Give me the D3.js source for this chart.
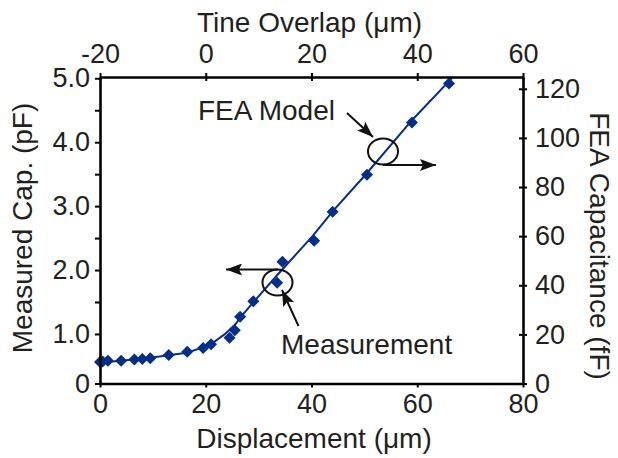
<!DOCTYPE html>
<html>
<head>
<meta charset="utf-8">
<script src="https://cdn.jsdelivr.net/npm/d3@7"></script>
<style>
  body { margin: 0; background: #fff; }
  text { font-family: "Liberation Sans", Arial, Helvetica, sans-serif; fill: #231f20; }
</style>
</head>
<body>
<svg id="chart" width="618" height="458"></svg>
<script>
// measured capacitance (pF) vs displacement (um)
const measDisp = [0, 0.5, 1.5, 4, 6.5, 8, 9.5, 13, 16.5, 19.5, 21, 24.5, 25.5, 26.5, 29, 33.5, 34.5, 40.5, 44, 50.5, 59, 66];
const measCap = [0.56, 0.57, 0.58, 0.58, 0.60, 0.61, 0.62, 0.67, 0.72, 0.78, 0.84, 0.94, 1.06, 1.27, 1.51, 1.80, 2.13, 2.46, 2.91, 3.49, 4.31, 4.92];

// FEA model capacitance (fF) vs tine overlap (um)
const feaOverlap = [-20.1, -16, -10.5, -7, -3.6, -0.6, 1.1, 3.6, 5.6, 6.6, 9.1, 14, 20.2, 24, 30.3, 39, 45.8, 46.8];
const feaCap = [8.5, 9.3, 10.5, 11.5, 12.5, 14.6, 16.2, 20.1, 24.1, 27.0, 33.3, 45.3, 60.0, 70.1, 85.2, 107.2, 122.6, 124.9];

const dispTicks = [0, 20, 40, 60, 80];
const overlapTicks = [-20, 0, 20, 40, 60];
const pfTicks = [0.225, 1, 1.5, 2, 2.5, 3, 3.5, 4, 4.5, 5];
const pfLabels = [0.225, 1, 2, 3, 4, 5];
const ffTicks = [0, 20, 40, 60, 80, 100, 120];

const svg = d3.select("#chart");
const m = { left: 100, right: 523, top: 77, bottom: 383.5 };
const blue = "#062d87";
const fs = "27px";

const x = d3.scaleLinear().domain([0, 80]).range([m.left, m.right]);
const xTop = d3.scaleLinear().domain([-20, 60]).range([m.left, m.right]);
const yL = d3.scaleLinear().domain([0.225, 5.02]).range([m.bottom, m.top]);
const yR = d3.scaleLinear().domain([0, 124.8]).range([m.bottom, m.top]);

// FEA model line
svg.append("path")
  .datum(d3.zip(feaOverlap, feaCap))
  .attr("fill", "none")
  .attr("stroke", blue)
  .attr("stroke-width", 2)
  .attr("d", d3.line().x(d => xTop(d[0])).y(d => yR(d[1])));

// measurement markers
svg.append("g").selectAll("path")
  .data(d3.zip(measDisp, measCap))
  .join("path")
  .attr("d", d3.symbol(d3.symbolSquare, 72))
  .attr("fill", blue)
  .attr("transform", d => `translate(${x(d[0])},${yL(d[1])}) rotate(45)`);

const styleAxis = (g) => {
  g.select(".domain").attr("stroke", "#000").attr("stroke-width", 2.6);
  g.selectAll(".tick line").attr("stroke", "#000").attr("stroke-width", 2);
  g.selectAll(".tick text").style("font-size", fs).attr("fill", "#231f20");
};

// bottom
svg.append("g")
  .attr("transform", `translate(0,${m.bottom})`)
  .call(d3.axisBottom(x).tickValues(dispTicks).tickSize(4).tickSizeOuter(0).tickPadding(6))
  .call(styleAxis);

// top
const gTop = svg.append("g")
  .attr("transform", `translate(0,${m.top})`)
  .call(d3.axisTop(xTop).tickValues(overlapTicks).tickSize(4).tickSizeOuter(0).tickPadding(10)
    .tickFormat(d => String(d)))
  .call(styleAxis);
gTop.selectAll(".tick line").attr("y2", 4).attr("y1", -4);

// left
svg.append("g")
  .attr("transform", `translate(${m.left},0)`)
  .call(d3.axisLeft(yL).tickValues(pfTicks).tickSize(5).tickSizeOuter(0).tickPadding(5)
    .tickFormat(d => pfLabels.includes(d) ? (d < 0.5 ? "0" : d3.format(".1f")(d)) : ""))
  .call(styleAxis);

// right
const gRight = svg.append("g")
  .attr("transform", `translate(${m.right},0)`)
  .call(d3.axisRight(yR).tickValues(ffTicks).tickSize(4).tickSizeOuter(0).tickPadding(8))
  .call(styleAxis);
gRight.selectAll(".tick line").attr("x1", -4);

// axis titles
svg.append("text").attr("x", (m.left + m.right) / 2 - 2).attr("y", 32)
  .attr("text-anchor", "middle").style("font-size", "28px").text("Tine Overlap (μm)");
svg.append("text").attr("x", 314).attr("y", 448)
  .attr("text-anchor", "middle").style("font-size", "28px").text("Displacement (μm)");
svg.append("text").attr("transform", "translate(32,228) rotate(-90)")
  .attr("text-anchor", "middle").style("font-size", "28px").text("Measured Cap. (pF)");
svg.append("text").attr("transform", "translate(590,246) rotate(90)")
  .attr("text-anchor", "middle").style("font-size", "28px").text("FEA Capacitance (fF)");

// annotations
svg.append("defs").append("marker")
  .attr("id", "head").attr("viewBox", "0 0 16 12")
  .attr("refX", 16).attr("refY", 6)
  .attr("markerWidth", 16).attr("markerHeight", 12)
  .attr("markerUnits", "userSpaceOnUse").attr("orient", "auto")
  .append("path").attr("d", "M0,0 L16,6 L0,12 L3,6 Z").attr("fill", "#111");

const arrow = (x1, y1, x2, y2) => svg.append("line")
  .attr("x1", x1).attr("y1", y1).attr("x2", x2).attr("y2", y2)
  .attr("stroke", "#111").attr("stroke-width", 2)
  .attr("marker-end", "url(#head)");

svg.append("text").attr("x", 198).attr("y", 120).style("font-size", "28px").text("FEA Model");
svg.append("text").attr("x", 281).attr("y", 354).style("font-size", "28px").text("Measurement");

svg.append("ellipse").attr("cx", 383).attr("cy", 151.5).attr("rx", 15).attr("ry", 13)
  .attr("fill", "none").attr("stroke", "#111").attr("stroke-width", 2);
svg.append("ellipse").attr("cx", 277.5).attr("cy", 282.5).attr("rx", 15).attr("ry", 13)
  .attr("fill", "none").attr("stroke", "#111").attr("stroke-width", 2);

arrow(347, 113, 373, 137);
arrow(383, 165, 436, 165);
arrow(278, 269.5, 226, 269.5);
arrow(298.5, 326, 282, 290);
</script>
</body>
</html>
